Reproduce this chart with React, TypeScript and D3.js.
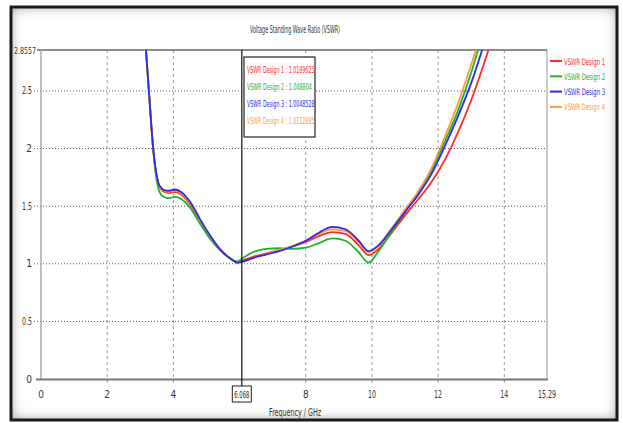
import React from "react";
import * as d3 from "d3";

const freq = [3.0, 3.17, 3.26, 3.39, 3.47, 3.55, 3.63, 3.72, 3.85, 4.05, 4.25, 4.5, 4.8, 5.1, 5.4, 5.7, 5.95, 6.1, 6.4, 6.8, 7.2, 7.6, 8.0, 8.4, 8.8, 9.2, 9.6, 9.9, 10.2, 10.6, 11.0, 11.4, 11.8, 12.2, 12.6, 13.0, 13.4, 13.8];

const design1 = [3.3, 2.86, 2.5, 2.0, 1.8, 1.69, 1.645, 1.625, 1.615, 1.625, 1.6, 1.52, 1.38, 1.24, 1.13, 1.05, 1.015, 1.03, 1.06, 1.09, 1.12, 1.15, 1.19, 1.24, 1.275, 1.26, 1.16, 1.075, 1.13, 1.27, 1.42, 1.56, 1.71, 1.9, 2.14, 2.42, 2.75, 3.1];
const design2 = [3.3, 2.86, 2.5, 2.0, 1.77, 1.65, 1.6, 1.58, 1.57, 1.58, 1.56, 1.49, 1.35, 1.22, 1.12, 1.05, 1.02, 1.05, 1.1, 1.13, 1.135, 1.13, 1.14, 1.18, 1.22, 1.2, 1.1, 1.01, 1.11, 1.28, 1.45, 1.62, 1.81, 2.06, 2.33, 2.66, 3.05, 3.45];
const design3 = [3.3, 2.86, 2.5, 2.0, 1.81, 1.7, 1.66, 1.64, 1.635, 1.645, 1.62, 1.54, 1.39, 1.25, 1.13, 1.05, 1.01, 1.02, 1.05, 1.08, 1.11, 1.15, 1.2, 1.27, 1.32, 1.3, 1.2, 1.11, 1.16, 1.3, 1.45, 1.6, 1.78, 2.02, 2.28, 2.57, 2.92, 3.3];
const design4 = [3.3, 2.86, 2.5, 2.0, 1.8, 1.695, 1.65, 1.635, 1.625, 1.635, 1.61, 1.53, 1.385, 1.245, 1.13, 1.05, 1.01, 1.015, 1.05, 1.085, 1.12, 1.155, 1.2, 1.26, 1.3, 1.285, 1.19, 1.1, 1.16, 1.31, 1.47, 1.63, 1.83, 2.1, 2.39, 2.73, 3.1, 3.5];

const seriesNames = ["VSWR Design 1", "VSWR Design 2", "VSWR Design 3", "VSWR Design 4"];
const seriesColors = ["#ff2a2a", "#22b22a", "#2a2aee", "#ff9a3a"];
const markerValues = ["1.0189625", "1.048804", "1.0048528", "1.0112885"];
const markerFreq = 6.068;

const xTicks = [0, 2, 4, 8, 10, 12, 14, 15.29];
const xGrid = [2, 4, 8, 10, 12, 14];
const yTicks = [0, 0.5, 1, 1.5, 2, 2.5];
const yMax = 2.8557;

const FONT = "'Liberation Sans Narrow', 'DejaVu Sans Condensed', 'Arial Narrow', 'Liberation Sans', sans-serif";

function numLen(s: string): number {
  let w = 0;
  for (const c of s) w += c === "." ? 2 : 4;
  return w;
}

export default function App() {
  const x = d3.scaleLinear().domain([0, 15.29]).range([41, 547]);
  const y = d3.scaleLinear().domain([0, yMax]).range([379, 50]);
  const all = [design1, design2, design3, design4];
  const line = d3
    .line<[number, number]>()
    .x((d) => x(d[0]))
    .y((d) => y(d[1]))
    .curve(d3.curveMonotoneX);
  const drawOrder = [0, 1, 3, 2];

  const numText = (s: string, props: any) =>
    s.length > 1 ? (
      <text {...props} textLength={numLen(s)} lengthAdjust="spacingAndGlyphs">
        {s}
      </text>
    ) : (
      <text {...props}>{s}</text>
    );

  return (
    <svg
      width={623}
      height={423}
      style={{ position: "absolute", left: 0, top: 0, background: "#fff" }}
      fontFamily={FONT}
    >
      <defs>
        <filter id="inset" x="-5%" y="-5%" width="110%" height="110%">
          <feFlood floodColor="#000" floodOpacity="0.7" result="flood" />
          <feComposite in="flood" in2="SourceAlpha" operator="out" result="outside" />
          <feGaussianBlur in="outside" stdDeviation="6" result="blur" />
          <feComposite in="blur" in2="SourceAlpha" operator="in" result="shadow" />
          <feMerge>
            <feMergeNode in="SourceGraphic" />
            <feMergeNode in="shadow" />
          </feMerge>
        </filter>
        <clipPath id="plotClip">
          <rect x={41} y={50} width={506} height={329} />
        </clipPath>
      </defs>

      <rect x={0} y={0} width={623} height={423} fill="#fff" />
      <rect x={12} y={8} width={604} height={411} fill="#fff" filter="url(#inset)" />
      <rect x={11} y={7} width={606} height={413} fill="none" stroke="#1b1b1b" strokeWidth={3} />

      {/* Title */}
      <text x={295} y={33} textAnchor="middle" fontSize={10} fill="#333" textLength={90} lengthAdjust="spacingAndGlyphs">
        Voltage Standing Wave Ratio (VSWR)
      </text>

      {/* Horizontal grid */}
      {yTicks.filter((t) => t > 0).map((t) => (
        <line key={"hg" + t} x1={34} x2={547} y1={y(t)} y2={y(t)} stroke="#555" strokeWidth={1} strokeDasharray="1,2" />
      ))}
      {/* Vertical grid */}
      {xGrid.map((t) => (
        <line key={"vg" + t} x1={x(t)} x2={x(t)} y1={50} y2={384} stroke="#999" strokeWidth={1} strokeDasharray="3,3" />
      ))}

      {/* Frame lines */}
      <line x1={37} x2={547} y1={50} y2={50} stroke="#666" strokeWidth={1.5} />
      <line x1={41} x2={41} y1={50} y2={380} stroke="#aaa" strokeWidth={1.5} />
      <line x1={547} x2={547} y1={50} y2={380} stroke="#999" strokeWidth={1} />
      <line x1={36} x2={548} y1={379.5} y2={379.5} stroke="#777" strokeWidth={2} />

      {/* Y labels */}
      {yTicks.map((t) => (
        <React.Fragment key={"yl" + t}>
          {numText(String(t), { x: 32, y: y(t) + 3.5, textAnchor: "end", fontSize: 10, fill: "#333" })}
        </React.Fragment>
      ))}
      <text x={14} y={y(yMax) + 3.5} fontSize={9.5} fill="#333" textLength={22} lengthAdjust="spacingAndGlyphs">
        {String(yMax)}
      </text>

      {/* X labels */}
      {xTicks.map((t) => (
        <React.Fragment key={"xl" + t}>
          {numText(String(t), { x: x(t), y: 398, textAnchor: "middle", fontSize: 10, fill: "#333" })}
        </React.Fragment>
      ))}
      <rect x={x(markerFreq) - 9.5} y={386} width={19} height={16} fill="#fff" stroke="#222" strokeWidth={1} />
      <text x={x(markerFreq)} y={398} textAnchor="middle" fontSize={9} fill="#222" textLength={15} lengthAdjust="spacingAndGlyphs">
        {String(markerFreq)}
      </text>
      <text x={295} y={416} textAnchor="middle" fontSize={10} fill="#333" textLength={52} lengthAdjust="spacingAndGlyphs">
        Frequency / GHz
      </text>

      {/* Curves */}
      <g clipPath="url(#plotClip)">
        {drawOrder.map((i) => (
          <path
            key={"s" + i}
            d={line(freq.map((f, k) => [f, all[i][k]] as [number, number])) || ""}
            fill="none"
            stroke={seriesColors[i]}
            strokeWidth={1.8}
          />
        ))}
      </g>

      {/* Marker */}
      <line x1={x(markerFreq)} x2={x(markerFreq)} y1={50} y2={386} stroke="#111" strokeWidth={1.2} />
      <rect x={244} y={57} width={71} height={80} fill="#fff" stroke="#222" strokeWidth={1.2} />
      {seriesNames.map((n, i) => {
        const label = `${n} : ${markerValues[i]}`;
        return (
          <text
            key={"mk" + i}
            x={247}
            y={73 + i * 17}
            fontSize={9}
            fill={seriesColors[i]}
            textLength={label.length * 2.7}
            lengthAdjust="spacingAndGlyphs"
          >
            {label}
          </text>
        );
      })}

      {/* Legend */}
      {seriesNames.map((n, i) => (
        <g key={"lg" + i}>
          <line x1={550} x2={562} y1={61 + i * 15.3} y2={61 + i * 15.3} stroke={seriesColors[i]} strokeWidth={2} />
          <g transform={`translate(564, ${64.5 + i * 15.3}) scale(0.66, 1)`}>
            <text x={0} y={0} fontSize={9} fill={seriesColors[i]}>
              {n}
            </text>
          </g>
        </g>
      ))}
    </svg>
  );
}
